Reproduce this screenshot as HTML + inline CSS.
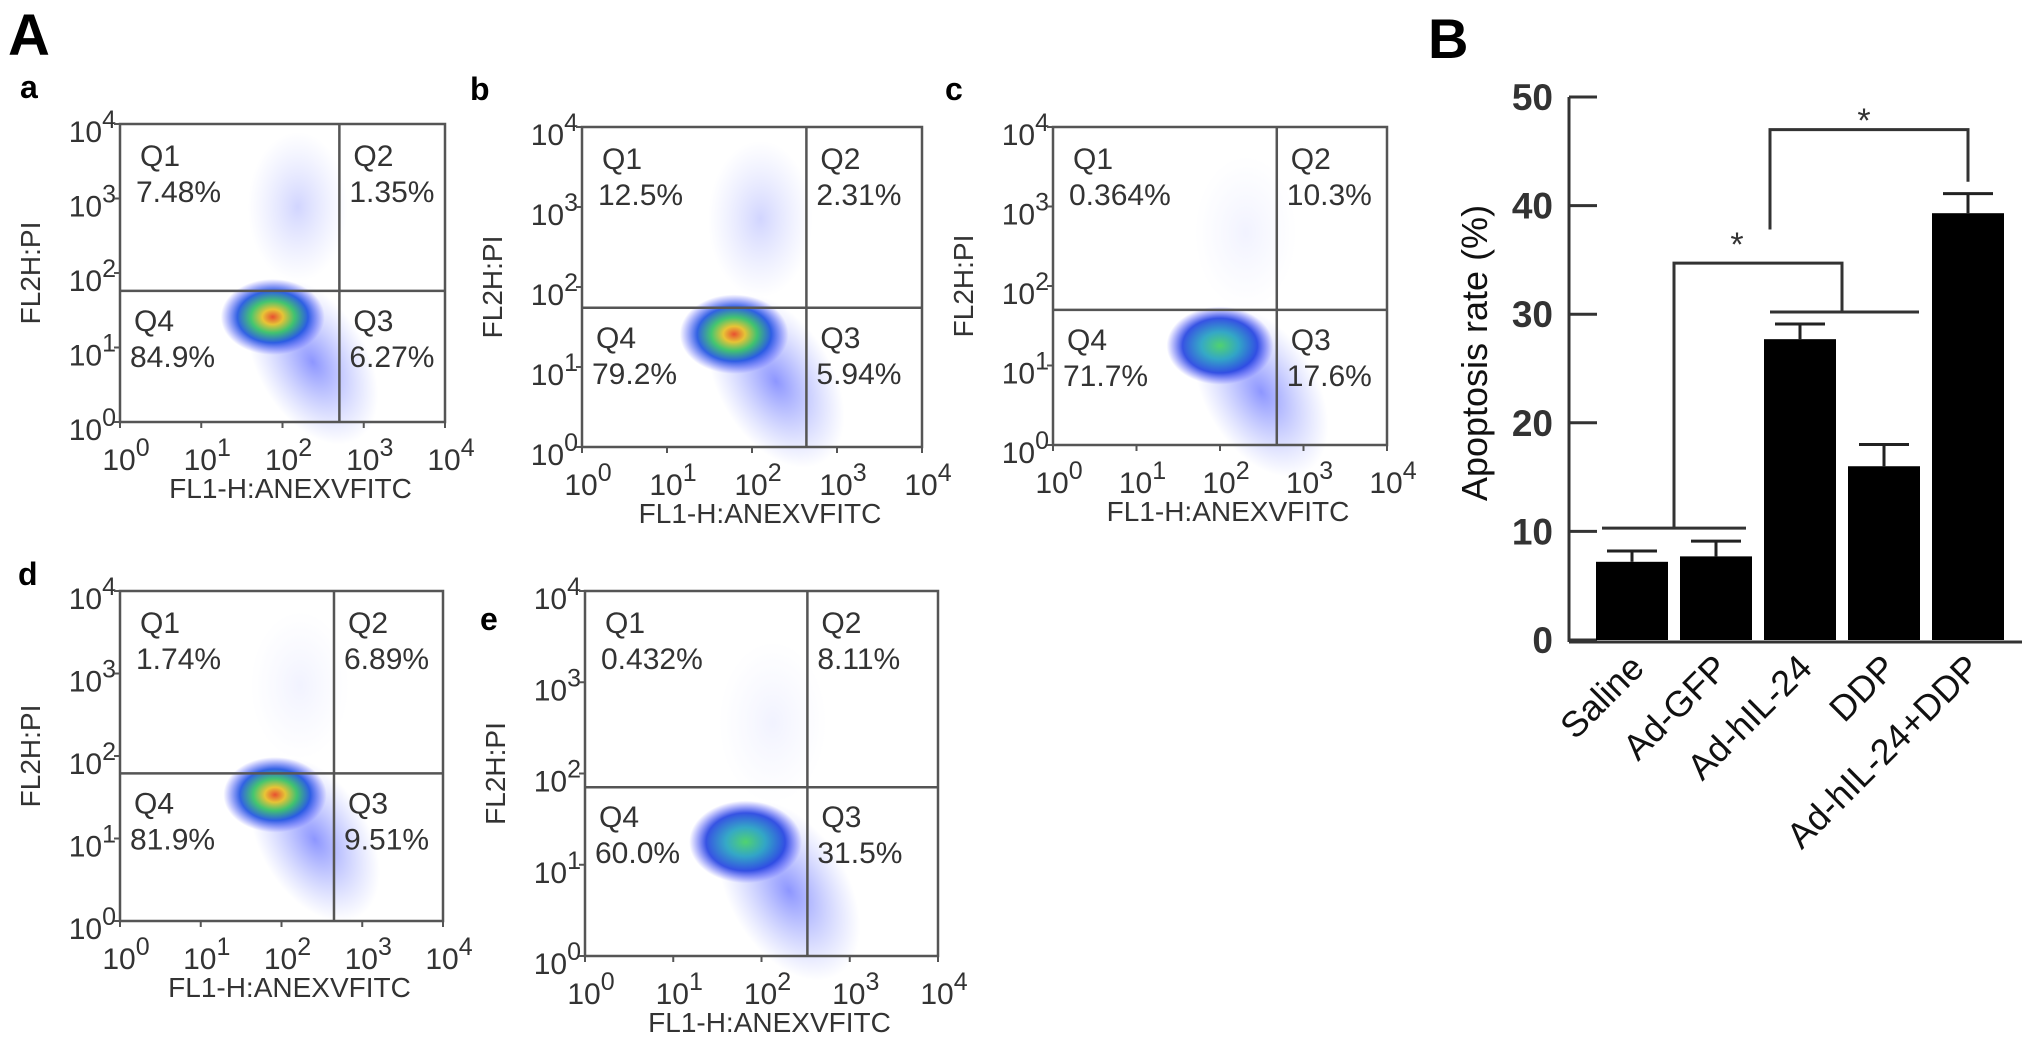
<!DOCTYPE html>
<html><head><meta charset="utf-8">
<style>
html,body{margin:0;padding:0;background:#fff;}
svg{display:block;font-family:"Liberation Sans",Arial,sans-serif;}
</style></head>
<body>
<svg id="fig" width="2031" height="1039" viewBox="0 0 2031 1039">
<defs>
<radialGradient id="core" cx="50%" cy="50%" r="50%">
<stop offset="0%" stop-color="#e8401a"/><stop offset="20%" stop-color="#e8c020"/>
<stop offset="42%" stop-color="#30c060"/><stop offset="68%" stop-color="#1a50e0"/>
<stop offset="100%" stop-color="#3a3aff" stop-opacity="0"/></radialGradient>
<radialGradient id="coreg" cx="50%" cy="50%" r="50%">
<stop offset="0%" stop-color="#40d060"/><stop offset="35%" stop-color="#20a0c0"/>
<stop offset="70%" stop-color="#2040e0"/>
<stop offset="100%" stop-color="#3a3aff" stop-opacity="0"/></radialGradient>
<radialGradient id="halo" cx="50%" cy="50%" r="50%">
<stop offset="0%" stop-color="#3040ff" stop-opacity="0.55"/>
<stop offset="100%" stop-color="#6070ff" stop-opacity="0"/></radialGradient>
</defs>
<text x="8" y="55" font-size="58" font-weight="bold" fill="#000">A</text>
<text x="1428" y="58" font-size="56" font-weight="bold" fill="#000">B</text>
<g id="flow"></g>
<g id="bars"></g>
</svg>
<script>
// ---------- Flow cytometry panels ----------
const flowLetters = ['a','b','c','d','e'];
const flowQ1 = ['7.48%','12.5%','0.364%','1.74%','0.432%'];
const flowQ2 = ['1.35%','2.31%','10.3%','6.89%','8.11%'];
const flowQ3 = ['6.27%','5.94%','17.6%','9.51%','31.5%'];
const flowQ4 = ['84.9%','79.2%','71.7%','81.9%','60.0%'];
const flowGateX = [2.7, 2.64, 2.68, 2.65, 2.52];
const flowGateY = [1.76, 1.74, 1.7, 1.79, 1.85];
const clusterX = [1.88, 1.79, 2.0, 1.92, 1.82];
const clusterY = [1.41, 1.41, 1.25, 1.53, 1.25];
const frames = [
 {l:120,r:445,t:124,b:422,lx:20,ly:98},
 {l:582,r:922,t:127,b:447,lx:470,ly:100},
 {l:1053,r:1387,t:127,b:445,lx:945,ly:100},
 {l:120,r:443,t:591,b:921,lx:18,ly:585},
 {l:585,r:938,t:591,b:956,lx:480,ly:630}
];
const NS='http://www.w3.org/2000/svg';
function mk(tag,attrs,parent){const e=document.createElementNS(NS,tag);for(const k in attrs)e.setAttribute(k,attrs[k]);parent.appendChild(e);return e;}
const flowG=document.getElementById('flow');
const FS=30;
frames.forEach((f,i)=>{
  const g=mk('g',{},flowG);
  
  
  const sx=v=>f.l+(f.r-f.l)*v/4, sy=v=>f.b-(f.b-f.t)*v/4;
  const lab=mk('text',{x:f.lx,y:f.ly,'font-size':32,'font-weight':'bold',fill:'#000'},g);lab.textContent=flowLetters[i];
  
  
  const cx=sx(clusterX[i]), cy=sy(clusterY[i]);
  const sc=(f.r-f.l)/325;
  const tail=mk('ellipse',{cx:cx+40*sc,cy:cy+45*sc,rx:55*sc,ry:90*sc,fill:'url(#halo)',transform:`rotate(-30 ${cx+40*sc} ${cy+45*sc})`},g);
  
  
  const up=mk('ellipse',{cx:cx+25*sc,cy:cy-110*sc,rx:50*sc,ry:75*sc,fill:'url(#halo)',opacity:i===0||i===1?0.4:0.12},g);
  
  
  const blob=mk('ellipse',{cx:cx,cy:cy,rx:52*sc,ry:38*sc,fill:(i===2||i===4)?'url(#coreg)':'url(#core)',opacity:0.9},g);
  
  
  const box=mk('rect',{x:f.l,y:f.t,width:f.r-f.l,height:f.b-f.t,fill:'none',stroke:'#555','stroke-width':2.5},g);
  
  
  const gx=sx(flowGateX[i]), gy=sy(flowGateY[i]);
  const vl=mk('line',{x1:gx,x2:gx,y1:f.t,y2:f.b,stroke:'#555','stroke-width':2.5},g);
  
  
  const hl=mk('line',{x1:f.l,x2:f.r,y1:gy,y2:gy,stroke:'#555','stroke-width':2.5},g);
  
  
  const qt=[[f.l+20,f.t+42,'Q1',flowQ1[i]],[gx+14,f.t+42,'Q2',flowQ2[i]],[gx+14,gy+40,'Q3',flowQ3[i]],[f.l+14,gy+40,'Q4',flowQ4[i]]];
  qt.forEach(q=>{
    const t1=mk('text',{x:q[0],y:q[1],'font-size':FS,fill:'#333'},g);t1.textContent=q[2];
    
    
    const t2=mk('text',{x:q[0]-4,y:q[1]+36,'font-size':FS,fill:'#333'},g);t2.textContent=q[3];
    
    
  });
  for(let d=0;d<=4;d++){
    const ty=sy(d), tx=sx(d);
    const yl=mk('text',{x:f.l-4,y:ty+18,'font-size':FS,fill:'#333','text-anchor':'end'},g);
    yl.innerHTML='10<tspan dy="-14" font-size="25">'+d+'</tspan>';
    
    
    const xl=mk('text',{x:tx+6,y:f.b+48,'font-size':FS,fill:'#333','text-anchor':'middle'},g);
    xl.innerHTML='10<tspan dy="-14" font-size="25">'+d+'</tspan>';
    
    
    mk('line',{x1:f.l-6,x2:f.l,y1:ty,y2:ty,stroke:'#555','stroke-width':2},g);
    mk('line',{x1:tx,x2:tx,y1:f.b,y2:f.b+6,stroke:'#555','stroke-width':2},g);
  }
  const yt=mk('text',{x:0,y:0,'font-size':28,fill:'#333','text-anchor':'middle',transform:`translate(${f.l-80},${(f.t+f.b)/2}) rotate(-90)`},g);
  yt.textContent='FL2H:PI';
  
  
  const xt=mk('text',{x:(f.l+f.r)/2+8,y:f.b+76,'font-size':28,fill:'#333','text-anchor':'middle'},g);
  xt.textContent='FL1-H:ANEXVFITC';
  
  
});

// ---------- Bar chart ----------
const barCategories = ['Saline','Ad-GFP','Ad-hIL-24','DDP','Ad-hIL-24+DDP'];
const barValues = [7.2, 7.7, 27.7, 16.0, 39.3];
const barErrors = [1.0, 1.4, 1.4, 2.0, 1.8];
const yTicks = [0,10,20,30,40,50];
const barG=document.getElementById('bars');
const bx0=1569, bx1=2022, by0=640, by50=97;
const yS=v=>by0-(by0-by50)*v/50;
const slotL=1590, slotW=84;
const xC=i=>slotL+slotW*i+slotW/2;
const bw=72;
mk('line',{x1:bx0,x2:bx0,y1:by50,y2:by0+2,stroke:'#333','stroke-width':3},barG);
mk('line',{x1:bx0,x2:bx1,y1:by0+2,y2:by0+2,stroke:'#333','stroke-width':3},barG);
yTicks.forEach(v=>{
  mk('line',{x1:bx0,x2:bx0+28,y1:yS(v),y2:yS(v),stroke:'#333','stroke-width':3},barG);
  const t=mk('text',{x:bx0-16,y:yS(v)+13,'font-size':37,'font-weight':'bold',fill:'#333','text-anchor':'end'},barG);
  t.textContent=v;
  
  
});
const yTitle=mk('text',{x:0,y:0,'font-size':36,fill:'#111','text-anchor':'middle',transform:`translate(1487,353) rotate(-90)`},barG);
yTitle.textContent='Apoptosis rate (%)';


barCategories.forEach((c,i)=>{
  const x=xC(i);
  const r=mk('rect',{x:x-bw/2,y:yS(barValues[i]),width:bw,height:by0-yS(barValues[i]),fill:'#000'},barG);
  
  
  const top=yS(barValues[i]+barErrors[i]);
  const e1=mk('line',{x1:x,x2:x,y1:yS(barValues[i]),y2:top,stroke:'#222','stroke-width':3},barG);
  
  
  mk('line',{x1:x-25,x2:x+25,y1:top,y2:top,stroke:'#222','stroke-width':3},barG);
  const t=mk('text',{x:0,y:0,'font-size':36,fill:'#111','text-anchor':'end',transform:`translate(${x+14},${by0+30}) rotate(-45)`},barG);
  t.textContent=c;
  
  
});
const br=mk('path',{d:`M${xC(0)-30},${yS(10.3)} H${xC(1)+30} M${(xC(0)+xC(1))/2},${yS(10.3)} V${yS(34.7)} H${(xC(2)+xC(3))/2} V${yS(30.2)} M${xC(2)-30},${yS(30.2)} H${xC(3)+35}`,fill:'none',stroke:'#333','stroke-width':3},barG);


const s1=mk('text',{x:1737,y:256,'font-size':34,fill:'#333','text-anchor':'middle'},barG);s1.textContent='*';


const br2=mk('path',{d:`M1770,${yS(37.8)} V${yS(47)} H${xC(4)} V${yS(42.2)}`,fill:'none',stroke:'#333','stroke-width':3},barG);


const s2=mk('text',{x:1864,y:132,'font-size':34,fill:'#333','text-anchor':'middle'},barG);s2.textContent='*';


</script>
</body></html>
